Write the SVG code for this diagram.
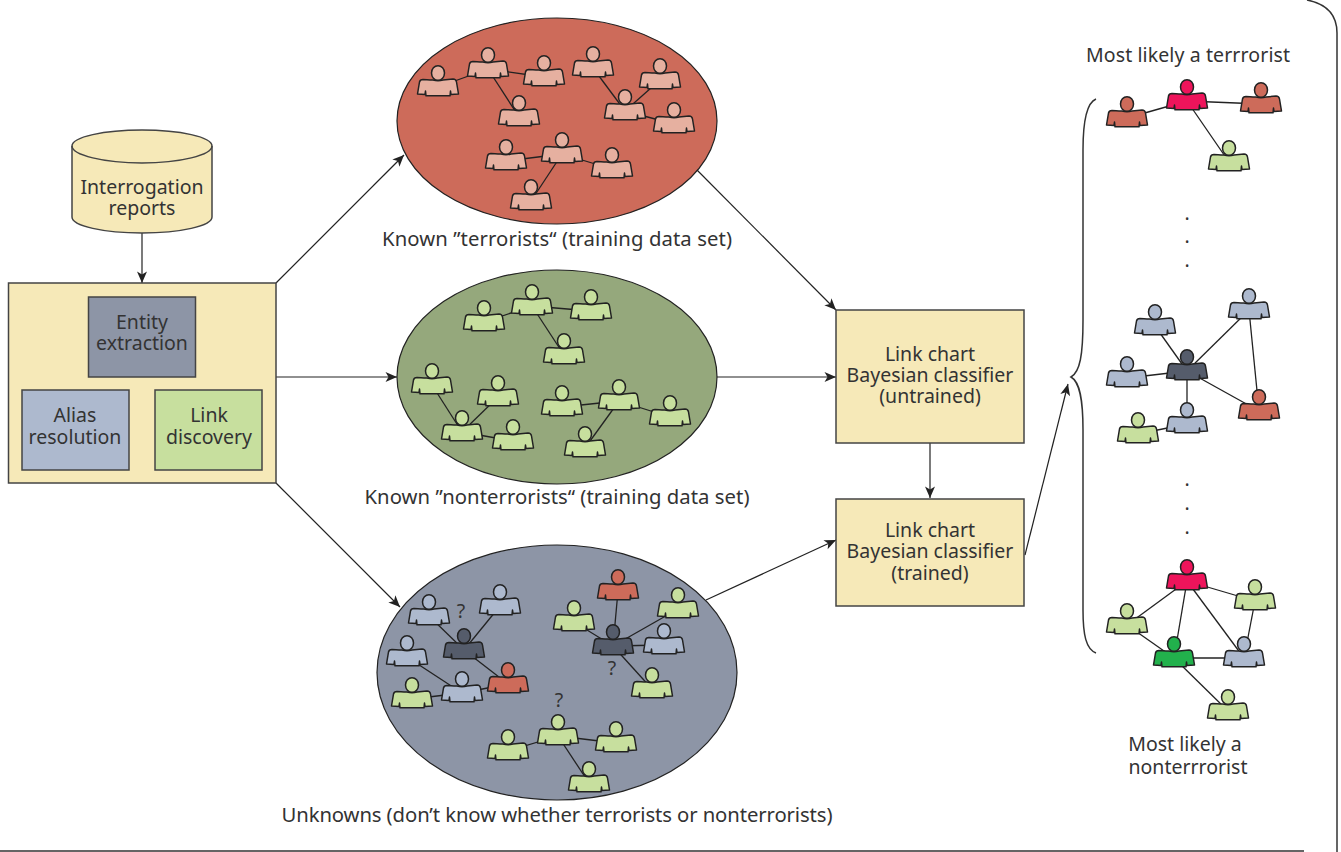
<svg xmlns="http://www.w3.org/2000/svg" width="1341" height="852" viewBox="0 0 1341 852">
<style>
text{font-family:"Noto Sans","Open Sans","Liberation Sans",sans-serif;font-size:19.5px;fill:#333;text-anchor:middle}
text.cap{font-size:20.300px}
.box{stroke:#444;stroke-width:1.5}
.cream{fill:#f6e9b8}.gray{fill:#8d95a6}.blue{fill:#adb9ce}.green{fill:#c7df9e}
.ell{stroke:#222;stroke-width:1.2}
.pk{fill:#e6b0a0}.lg{fill:#c7df9e}.lb{fill:#adb9ce}.dk{fill:#555c6b}.rd{fill:#cd6b5a}.cr{fill:#ee145b}.dg{fill:#22b14c}
#edges line{stroke:#222;stroke-width:1.3}
#arrows line{stroke:#222;stroke-width:1.2;marker-end:url(#ah)}
.frame{fill:none;stroke:#333;stroke-width:1.5}
</style>
<defs>
<marker id="ah" markerUnits="userSpaceOnUse" markerWidth="14" markerHeight="12" viewBox="-12 -6 13 12" refX="0" refY="0" orient="auto"><path d="M0,0L-11.500,-5L-8.500,0L-11.500,5Z" fill="#222"/></marker>
<g id="p" stroke="#222" stroke-width="1.500" stroke-linejoin="round"><path d="M-15,6.500Q-6,7 -5,7Q0,8.500 5,7L15,6Q18,6 18.500,9L20.500,21L13,21.500L12.500,18L12,22.800L-12,22.800L-12.500,18L-13,21.500L-20.500,21L-18.500,9Q-18,6.500 -15,6.500Z"/><ellipse cx="0" cy="0" rx="6.500" ry="7.300"/></g>
</defs>
<path class="frame" d="M1307,0Q1337,6 1337,33V852M0,851H1304"/>
<g id="ellipses">
<ellipse id="terrorists" class="ell" cx="557" cy="121" rx="160" ry="103" fill="#cd6b5a"/>
<ellipse id="nonterrorists" class="ell" cx="557" cy="377" rx="160" ry="107" fill="#95a87c"/>
<ellipse id="unknowns" class="ell" cx="557" cy="672.500" rx="180" ry="127.500" fill="#8d95a6"/>
</g>
<g id="connectors">
<g id="edges">
<line x1="438" y1="87" x2="488" y2="69"/><line x1="488" y1="69" x2="544" y2="77"/><line x1="488" y1="69" x2="519" y2="117"/><line x1="593" y1="68" x2="625" y2="111"/><line x1="660" y1="80" x2="625" y2="111"/><line x1="625" y1="111" x2="674" y2="124"/><line x1="506" y1="161" x2="562" y2="154"/><line x1="562" y1="154" x2="612" y2="169"/><line x1="562" y1="154" x2="531" y2="201"/>
<line x1="484" y1="322" x2="532" y2="306"/><line x1="532" y1="306" x2="591" y2="311"/><line x1="532" y1="306" x2="564" y2="355"/><line x1="432" y1="385" x2="462" y2="432"/><line x1="498" y1="397" x2="462" y2="432"/><line x1="462" y1="432" x2="513" y2="441"/><line x1="562" y1="407" x2="619" y2="401"/><line x1="619" y1="401" x2="670" y2="417"/><line x1="619" y1="401" x2="585" y2="448"/>
<line x1="429" y1="616" x2="464" y2="650"/><line x1="500" y1="606" x2="464" y2="650"/><line x1="464" y1="650" x2="508" y2="684"/><line x1="407" y1="657" x2="462" y2="693"/><line x1="412" y1="699" x2="462" y2="693"/><line x1="462" y1="693" x2="508" y2="684"/><line x1="618" y1="591" x2="613" y2="646"/><line x1="574" y1="622" x2="613" y2="646"/><line x1="678" y1="609" x2="613" y2="646"/><line x1="664" y1="645" x2="613" y2="646"/><line x1="652" y1="689" x2="613" y2="646"/><line x1="558" y1="736" x2="508" y2="751"/><line x1="558" y1="736" x2="616" y2="743"/><line x1="558" y1="736" x2="589" y2="783"/>
<line x1="1127" y1="118" x2="1187" y2="101"/><line x1="1187" y1="101" x2="1261" y2="104"/><line x1="1187" y1="101" x2="1229" y2="162"/>
<line x1="1155" y1="326" x2="1187" y2="371"/><line x1="1249" y1="310" x2="1187" y2="371"/><line x1="1249" y1="310" x2="1259" y2="411"/><line x1="1127" y1="378" x2="1187" y2="371"/><line x1="1187" y1="371" x2="1187" y2="424"/><line x1="1187" y1="371" x2="1259" y2="411"/><line x1="1138" y1="434" x2="1187" y2="424"/>
<line x1="1187" y1="581" x2="1255" y2="601"/><line x1="1187" y1="581" x2="1127" y2="625"/><line x1="1187" y1="581" x2="1174" y2="658"/><line x1="1187" y1="581" x2="1244" y2="658"/><line x1="1255" y1="601" x2="1244" y2="658"/><line x1="1127" y1="625" x2="1174" y2="658"/><line x1="1174" y1="658" x2="1244" y2="658"/><line x1="1174" y1="658" x2="1228" y2="711"/>
</g>
<g id="arrows">
<line x1="142" y1="233" x2="142" y2="283"/>
<line x1="276" y1="283" x2="404" y2="155"/>
<line x1="276" y1="377" x2="397" y2="377"/>
<line x1="276" y1="483" x2="400" y2="607"/>
<line x1="697" y1="170" x2="836" y2="310"/>
<line x1="717" y1="377" x2="836" y2="377"/>
<line x1="706" y1="600" x2="836" y2="540"/>
<line x1="930" y1="443" x2="930" y2="498"/>
<line x1="1025" y1="555" x2="1068" y2="384"/>
</g>
</g>
<g id="cylinder"><path class="cream box" d="M72,146V217C72,226 104,233 142,233S212,226 212,217V146C212,137 180,130 142,130S72,137 72,146Z"/><path class="box" fill="none" d="M72,146C72,155 104,163 142,163S212,155 212,146"/><text x="142" y="194">Interrogation</text><text x="142" y="215">reports</text></g>
<g id="processing"><rect class="cream box" x="8.500" y="283" width="267.500" height="200"/></g>
<g id="entity"><rect class="gray box" x="88.500" y="297" width="107" height="80"/><text x="142" y="329">Entity</text><text x="142" y="350">extraction</text></g>
<g id="alias"><rect class="blue box" x="22" y="390" width="107" height="80"/><text x="75" y="422">Alias</text><text x="75" y="444">resolution</text></g>
<g id="link"><rect class="green box" x="155" y="390" width="107" height="80"/><text x="209" y="422">Link</text><text x="209" y="444">discovery</text></g>
<g id="t1"><use class="pk" href="#p" x="438" y="73"/></g><g id="t2"><use class="pk" href="#p" x="488" y="55"/></g><g id="t3"><use class="pk" href="#p" x="544" y="63"/></g><g id="t4"><use class="pk" href="#p" x="519" y="103"/></g><g id="t5"><use class="pk" href="#p" x="593" y="54"/></g><g id="t6"><use class="pk" href="#p" x="660" y="66"/></g><g id="t7"><use class="pk" href="#p" x="625" y="97"/></g><g id="t8"><use class="pk" href="#p" x="674" y="110"/></g><g id="t9"><use class="pk" href="#p" x="506" y="147"/></g><g id="t10"><use class="pk" href="#p" x="562" y="140"/></g><g id="t11"><use class="pk" href="#p" x="612" y="155"/></g><g id="t12"><use class="pk" href="#p" x="531" y="187"/></g>
<text class="cap" x="557" y="246" textLength="350" lengthAdjust="spacing">Known ”terrorists“ (training data set)</text>
<g id="n1"><use class="lg" href="#p" x="484" y="308"/></g><g id="n2"><use class="lg" href="#p" x="532" y="292"/></g><g id="n3"><use class="lg" href="#p" x="591" y="297"/></g><g id="n4"><use class="lg" href="#p" x="564" y="341"/></g><g id="n5"><use class="lg" href="#p" x="432" y="371"/></g><g id="n6"><use class="lg" href="#p" x="498" y="383"/></g><g id="n7"><use class="lg" href="#p" x="462" y="418"/></g><g id="n8"><use class="lg" href="#p" x="513" y="427"/></g><g id="n9"><use class="lg" href="#p" x="562" y="393"/></g><g id="n10"><use class="lg" href="#p" x="619" y="387"/></g><g id="n11"><use class="lg" href="#p" x="670" y="403"/></g><g id="n12"><use class="lg" href="#p" x="585" y="434"/></g>
<text class="cap" x="557" y="504" textLength="385" lengthAdjust="spacing">Known ”nonterrorists“ (training data set)</text>
<g id="u1"><use class="lb" href="#p" x="429" y="602"/></g><g id="u2"><use class="lb" href="#p" x="500" y="592"/></g><g id="u3"><use class="dk" href="#p" x="464" y="636"/></g><g id="u4"><use class="lb" href="#p" x="407" y="643"/></g><g id="u5"><use class="lb" href="#p" x="462" y="679"/></g><g id="u6"><use class="rd" href="#p" x="508" y="670"/></g><g id="u7"><use class="lg" href="#p" x="412" y="685"/></g><g id="u8"><use class="rd" href="#p" x="618" y="577"/></g><g id="u9"><use class="lg" href="#p" x="574" y="608"/></g><g id="u10"><use class="lg" href="#p" x="678" y="595"/></g><g id="u11"><use class="dk" href="#p" x="613" y="632"/></g><g id="u12"><use class="lb" href="#p" x="664" y="631"/></g><g id="u13"><use class="lg" href="#p" x="652" y="675"/></g><g id="u14"><use class="lg" href="#p" x="558" y="722"/></g><g id="u15"><use class="lg" href="#p" x="508" y="737"/></g><g id="u16"><use class="lg" href="#p" x="616" y="729"/></g><g id="u17"><use class="lg" href="#p" x="589" y="769"/></g>
<text x="461" y="618">?</text><text x="612" y="675">?</text><text x="559" y="707">?</text>
<text class="cap" x="557" y="822" textLength="551" lengthAdjust="spacing">Unknowns (don’t know whether terrorists or nonterrorists)</text>
<g id="untrained"><rect class="cream box" x="836" y="310" width="188" height="133"/><text x="930" y="361">Link chart</text><text x="930" y="382">Bayesian classifier</text><text x="930" y="403">(untrained)</text></g>
<g id="trained"><rect class="cream box" x="836" y="499" width="188" height="107"/><text x="930" y="537">Link chart</text><text x="930" y="558">Bayesian classifier</text><text x="930" y="580">(trained)</text></g>
<path id="brace" class="frame" d="M1096,99C1086,103 1083,125 1083,150V320C1083,355 1080,372 1071,377C1080,382 1083,400 1083,430V610C1083,635 1086,649 1096,653"/>
<text x="1188" y="62" textLength="204" lengthAdjust="spacing">Most likely a terrrorist</text>
<g id="a1"><use class="rd" href="#p" x="1127" y="104"/></g><g id="a2"><use class="cr" href="#p" x="1187" y="87"/></g><g id="a3"><use class="rd" href="#p" x="1261" y="90"/></g><g id="a4"><use class="lg" href="#p" x="1229" y="148"/></g>
<text x="1187" y="220">.</text><text x="1187" y="243">.</text><text x="1187" y="267">.</text>
<g id="b1"><use class="lb" href="#p" x="1155" y="312"/></g><g id="b2"><use class="lb" href="#p" x="1249" y="296"/></g><g id="b3"><use class="dk" href="#p" x="1187" y="357"/></g><g id="b4"><use class="lb" href="#p" x="1127" y="364"/></g><g id="b5"><use class="rd" href="#p" x="1259" y="397"/></g><g id="b6"><use class="lb" href="#p" x="1187" y="410"/></g><g id="b7"><use class="lg" href="#p" x="1138" y="420"/></g>
<text x="1187" y="486">.</text><text x="1187" y="510">.</text><text x="1187" y="534">.</text>
<g id="c1"><use class="cr" href="#p" x="1187" y="567"/></g><g id="c2"><use class="lg" href="#p" x="1255" y="587"/></g><g id="c3"><use class="lg" href="#p" x="1127" y="611"/></g><g id="c4"><use class="dg" href="#p" x="1174" y="644"/></g><g id="c5"><use class="lb" href="#p" x="1244" y="644"/></g><g id="c6"><use class="lg" href="#p" x="1228" y="697"/></g>
<text x="1185" y="751">Most likely a</text><text x="1188" y="774">nonterrrorist</text>
</svg>
